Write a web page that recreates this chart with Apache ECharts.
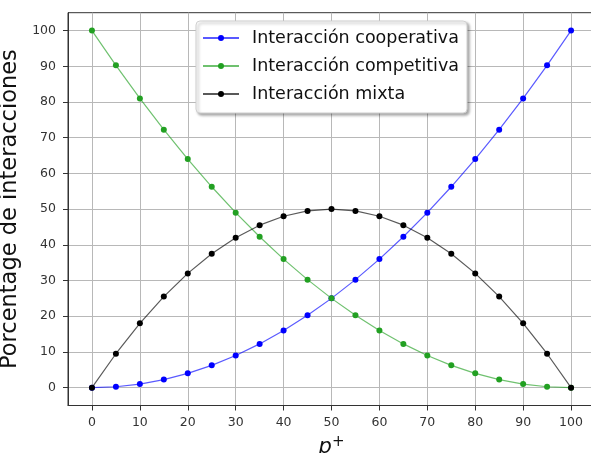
<!DOCTYPE html>
<html><head><meta charset="utf-8">
<script src="https://cdn.jsdelivr.net/npm/echarts@6/dist/echarts.min.js"></script>
<style>html,body{margin:0;padding:0;background:#fff}#c{width:591px;height:453px}</style>
</head><body><div id="c"></div>
<script>
const pValues = [0,5,10,15,20,25,30,35,40,45,50,55,60,65,70,75,80,85,90,95,100];
const cooperativa = [0,0.25,1,2.25,4,6.25,9,12.25,16,20.25,25,30.25,36,42.25,49,56.25,64,72.25,81,90.25,100];
const competitiva = [100,90.25,81,72.25,64,56.25,49,42.25,36,30.25,25,20.25,16,12.25,9,6.25,4,2.25,1,0.25,0];
const mixta = [0,9.5,18,25.5,32,37.5,42,45.5,48,49.5,50,49.5,48,45.5,42,37.5,32,25.5,18,9.5,0];
const xTicks = [0,10,20,30,40,50,60,70,80,90,100];
const yTicks = [0,10,20,30,40,50,60,70,80,90,100];
const seriesNames = ['Interacción cooperativa','Interacción competitiva','Interacción mixta'];
const colors = ['#0000ff','#22a022','#000000'];

const chart = echarts.init(document.getElementById('c'), null, {renderer:'canvas'});
const font = 'DejaVu Sans';
function mk(name, vals, color){
  return {
    name, type:'line', data: pValues.map((p,i)=>[p, vals[i]]),
    symbol:'circle', symbolSize:6, showSymbol:true,
    itemStyle:{color, opacity:1},
    lineStyle:{color, width:1.2, opacity:0.65},
    emphasis:{disabled:true}, animation:false, z:3
  };
}
const lineCommon = {show:true, onZero:false, lineStyle:{color:'#333', width:1}};
const splitCommon = {show:true, lineStyle:{color:'#b8b8b8', width:1}};
chart.setOption({
  animation:false,
  grid:{left:68, top:12.7, width:527, height:392.8, show:true, borderColor:'#333', borderWidth:1, containLabel:false, outerBoundsMode:'none'},
  xAxis:{
    type:'value', min:-5, max:105,
    name:'{i|p}{s|+}', nameLocation:'middle', nameGap:28,
    nameTextStyle:{rich:{i:{fontFamily:font, fontStyle:'italic', fontSize:21, color:'#111'}, s:{fontFamily:font, fontSize:15, color:'#111', verticalAlign:'top', padding:[0,0,12,0]}}},
    axisLine:lineCommon, splitLine:splitCommon,
    axisTick:{show:true, inside:false, customValues:xTicks, length:5, lineStyle:{color:'#333', width:1}},
    axisLabel:{customValues:xTicks, fontFamily:font, fontSize:12.5, color:'#333', margin:11},
  },
  yAxis:{
    type:'value', min:-5, max:105,
    name:'Porcentage de interacciones', nameLocation:'middle', nameGap:32, nameRotate:90,
    nameTextStyle:{fontFamily:font, fontSize:22.5, color:'#111'},
    axisLine:lineCommon, splitLine:splitCommon,
    axisTick:{show:true, inside:false, customValues:yTicks, length:5, lineStyle:{color:'#333', width:1}},
    axisLabel:{customValues:yTicks, fontFamily:font, fontSize:12.5, color:'#333', margin:12},
  },
  legend:{
    orient:'vertical', left:196, top:21,
    data:seriesNames,
    itemWidth:36, itemHeight:7.5, itemGap:10,
    padding:[8,8,10,6],
    textStyle:{fontFamily:font, fontSize:17.5, lineHeight:18, color:'#111', padding:[0,0,0,8]},
    backgroundColor:'#fff', borderColor:'#d0d0d0', borderWidth:1, borderRadius:4,
    shadowColor:'rgba(0,0,0,0.35)', shadowBlur:3, shadowOffsetX:2, shadowOffsetY:2,
    selectedMode:false
  },
  series:[mk(seriesNames[0], cooperativa, colors[0]), mk(seriesNames[1], competitiva, colors[1]), mk(seriesNames[2], mixta, colors[2])]
});
</script></body></html>
